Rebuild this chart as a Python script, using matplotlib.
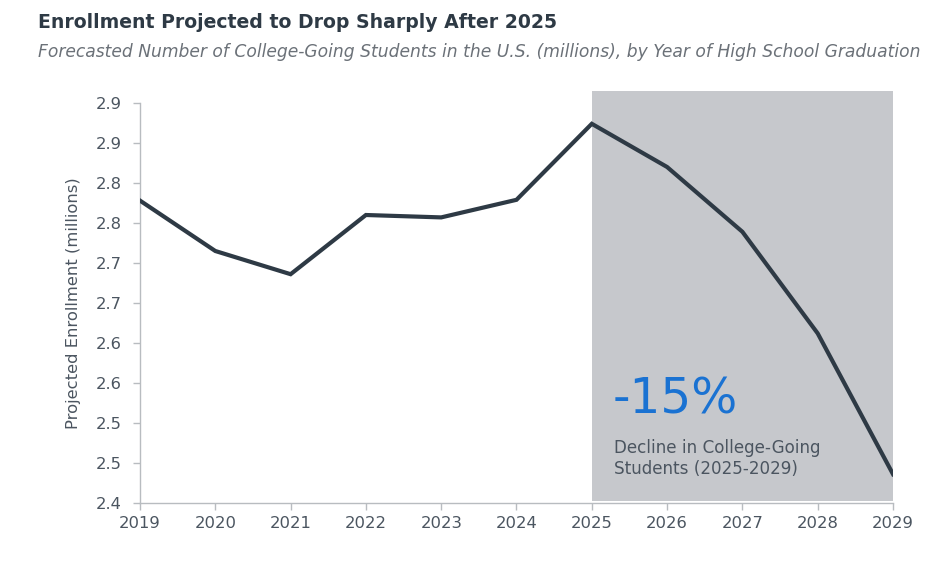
import matplotlib
matplotlib.use("Agg")
import matplotlib.pyplot as plt
from matplotlib.patches import Rectangle
import matplotlib.transforms as mtransforms

years = [2019, 2020, 2021, 2022, 2023, 2024, 2025, 2026, 2027, 2028, 2029]
enrollment = [2.778, 2.715, 2.686, 2.760, 2.757, 2.779, 2.874, 2.820, 2.739, 2.612, 2.436]
ytick_vals = [2.40, 2.45, 2.50, 2.55, 2.60, 2.65, 2.70, 2.75, 2.80, 2.85, 2.90]
ytick_labels = ["2.4", "2.5", "2.5", "2.6", "2.6", "2.7", "2.7", "2.8", "2.8", "2.9", "2.9"]
shade_start, shade_end = 2025, 2029

plt.rcParams['font.family'] = ['DejaVu Sans']

W, H = 939, 567
fig = plt.figure(figsize=(W/100, H/100), dpi=100)
ax = fig.add_axes([140/W, 64/H, (893-140)/W, (503-103)/H])

line_col = "#2e3a45"
text_col = "#4b5560"
spine_col = "#b8bcc0"

# shaded region extending slightly above the axes
trans = mtransforms.blended_transform_factory(ax.transData, ax.transAxes)
rect = Rectangle((shade_start, 0.004), shade_end - shade_start, 1.025, transform=trans,
                 facecolor="#c6c8cc", edgecolor="none", clip_on=False, zorder=0)
ax.add_patch(rect)

ax.plot(years, enrollment, color=line_col, lw=3.0, zorder=3, solid_joinstyle='miter')

ax.set_xlim(2019, 2029)
ax.set_ylim(2.40, 2.90)
ax.set_xticks(years)
ax.set_xticklabels([str(y) for y in years])
ax.set_yticks(ytick_vals)
ax.set_yticklabels(ytick_labels)

for s in ["top", "right"]:
    ax.spines[s].set_visible(False)
for s in ["left", "bottom"]:
    ax.spines[s].set_color(spine_col)
    ax.spines[s].set_linewidth(1.0)
ax.tick_params(axis='both', colors=spine_col, length=5, width=1.0, labelsize=11.8, labelcolor=text_col)
ax.tick_params(axis='y', pad=8)
ax.tick_params(axis='x', pad=4)

ax.set_ylabel("Projected Enrollment (millions)", fontsize=11.8, color=text_col, labelpad=11)

fig.text(38/W, 1 - 22/H, "Enrollment Projected to Drop Sharply After 2025", fontsize=13.6,
         fontweight='bold', color="#2e3a45", va='center', ha='left')
fig.text(38/W, 1 - 52/H, "Forecasted Number of College-Going Students in the U.S. (millions), by Year of High School Graduation",
         fontsize=12.3, style='italic', color="#6b7178", va='center', ha='left')

ax.text(2025.28, 2.529, "-15%", fontsize=35, color="#1a72d2", va='center', ha='left', zorder=4)
ax.text(2025.3, 2.456, "Decline in College-Going\nStudents (2025-2029)", fontsize=12.1, color=text_col,
        va='center', ha='left', linespacing=1.2, zorder=4)

fig.savefig("out.png", dpi=100)
